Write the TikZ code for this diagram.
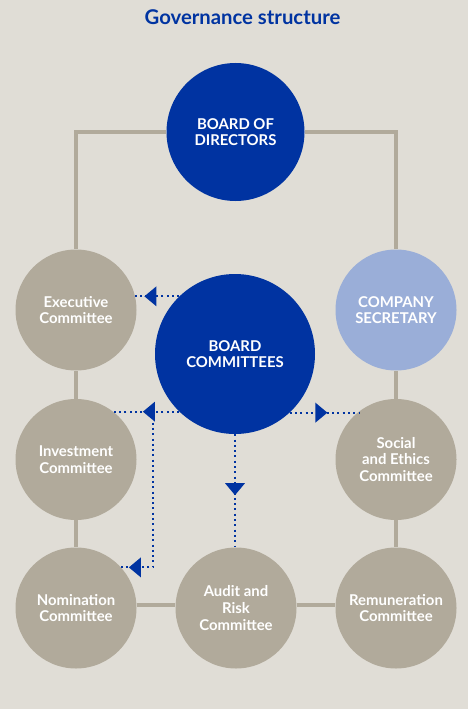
\documentclass[tikz,border=0pt]{standalone}
\usepackage{fontspec}
\setmainfont{Lato}
\usetikzlibrary{arrows.meta,decorations.markings}
\definecolor{bg}{HTML}{E0DDD6}
\definecolor{grayc}{HTML}{B1AA9B}
\definecolor{blueA}{HTML}{0033A1}
\definecolor{lblue}{HTML}{9AAED8}
\tikzset{
  circ/.style={circle,inner sep=0pt,minimum size=121pt,fill=grayc,text=white,
    font=\fontsize{14.9}{16.7}\selectfont\bfseries,align=center},
  bigcirc/.style={circ,fill=blueA},
  conn/.style={draw=grayc,line width=4pt},
  dots/.style={draw=blueA,line width=2pt,dash pattern=on 2pt off 3.3pt},
  tipat/.style={postaction={decorate},decoration={markings,
    mark=at position #1 with {\arrow{Triangle[length=12pt,width=19.5pt,fill=blueA,color=blueA]}}}}
}
\begin{document}
\begin{tikzpicture}[x=1pt,y=-1pt]
\fill[bg] (0,0) rectangle (468,709);
\useasboundingbox (0,0) rectangle (468,709);
\node[anchor=base,text=blueA,font=\fontsize{20.3}{24}\selectfont\bfseries] (title) at (242.5,25) {Governance structure};
% nodes
\node[bigcirc,minimum size=138pt] (bod) at (235.5,132) {BOARD OF\\DIRECTORS};
\node[circ] (exec) at (76,310) {Executive\\Committee};
\node[circ,fill=lblue] (sec) at (396,310) {COMPANY\\SECRETARY};
\node[circ] (inv) at (76,459.5) {Investment\\Committee};
\node[circ] (soc) at (396,459.5) {Social\\and Ethics\\Committee};
\node[circ] (nom) at (76,608) {Nomination\\Committee};
\node[circ] (aud) at (236,608) {Audit and\\Risk\\Committee};
\node[circ] (rem) at (396,608) {Remuneration\\Committee};
\node[bigcirc,minimum size=160pt] (bc) at (235,354) {BOARD\\COMMITTEES};
% gray connectors
\draw[conn] (bod.west) -| (exec.north);
\draw[conn] (bod.east) -| (sec.north);
\draw[conn] (exec.south) -- (inv.north);
\draw[conn] (inv.south) -- (nom.north);
\draw[conn] (sec.south) -- (soc.north);
\draw[conn] (soc.south) -- (rem.north);
\draw[conn] ([yshift=3pt]nom.east) -- ([yshift=3pt]aud.west);
\draw[conn] ([yshift=3pt]aud.east) -- ([yshift=3pt]rem.west);
% dotted blue connectors
\draw[dots,tipat=34.9pt] (bc.134.6) -- (bc.134.6 -| exec.12.4);
\draw[dots,tipat=36.4pt] (bc.226.5) -- (bc.226.5 -| inv.51.7);
\coordinate (br) at (153,412);
\draw[dots,tipat=179.5pt] (br) |- (nom.42.7);
\draw[dots,tipat=37.7pt] (bc.313.5) -- (bc.313.5 -| soc.128.3);
\draw[dots,tipat=61pt] (bc.south) -- (bc.south |- aud.north);
\end{tikzpicture}
\end{document}
